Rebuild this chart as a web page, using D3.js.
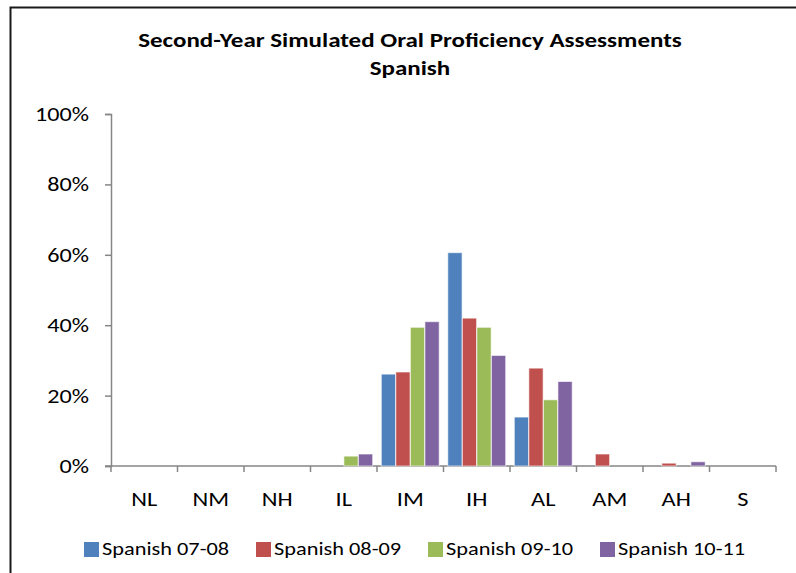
<!DOCTYPE html>
<html>
<head>
<meta charset="utf-8">
<script src="https://cdn.jsdelivr.net/npm/d3@7"></script>
<style>
  body { margin: 0; background: #fff; }
  text { font-family: Carlito, Lato, "Open Sans", sans-serif; fill: #000; }
</style>
</head>
<body>
<div id="chart"></div>
<script>
const categories = ["NL", "NM", "NH", "IL", "IM", "IH", "AL", "AM", "AH", "S"];
const seriesNames = ["Spanish 07-08", "Spanish 08-09", "Spanish 09-10", "Spanish 10-11"];
const spanish0708 = [0, 0, 0, 0, 26.1, 60.6, 13.9, 0, 0, 0];
const spanish0809 = [0, 0, 0, 0, 26.7, 42.0, 27.8, 3.4, 0.8, 0];
const spanish0910 = [0, 0, 0, 2.8, 39.4, 39.4, 18.8, 0, 0, 0];
const spanish1011 = [0, 0, 0, 3.4, 41.0, 31.4, 24.0, 0, 1.2, 0];
const yTicks = [0, 20, 40, 60, 80, 100];
const colors = ["#4F81BD", "#C0504D", "#9BBB59", "#8064A2"];

const width = 796, height = 573;
const series = [spanish0708, spanish0809, spanish0910, spanish1011];
// the reference text is a bit wider than its height suggests
const stretch = 1.22;

const svg = d3
  .select("#chart")
  .append("svg")
  .attr("width", width)
  .attr("height", height)
  .attr("viewBox", [0, 0, width, height]);

// chart frame (only top and left edges show in the crop)
svg
  .append("rect")
  .attr("x", 10.5)
  .attr("y", 7.5)
  .attr("width", width + 20)
  .attr("height", height + 20)
  .attr("fill", "none")
  .attr("stroke", "#1a1a1a")
  .attr("stroke-width", 2);

const plot = { left: 111, right: 776, top: 114, bottom: 466 };

const x0 = d3.scaleBand().domain(categories).range([plot.left, plot.right]);
const x1 = d3
  .scaleBand()
  .domain(d3.range(series.length))
  .range([x0.bandwidth() * 0.065, x0.bandwidth() * 0.935])
  .paddingInner(0.02);
const y = d3.scaleLinear().domain([0, 100]).range([plot.bottom, plot.top]);

const label = (sel, x, y, txt, size, anchor, bold) =>
  sel
    .append("text")
    .attr("transform", `translate(${x},${y}) scale(${stretch},1)`)
    .attr("text-anchor", anchor)
    .style("font-size", size + "px")
    .style("font-weight", bold ? "bold" : "normal")
    .text(txt);

// title
label(svg, 410, 47, "Second-Year Simulated Oral Proficiency Assessments", 20.5, "middle", true);
label(svg, 410, 75, "Spanish", 20.5, "middle", true);

// y axis
const gy = svg.append("g").attr("transform", `translate(${plot.left},0)`);
gy.call(d3.axisLeft(y).tickValues(yTicks).tickSize(6).tickFormat(""));
gy.selectAll("path, line").attr("stroke", "#868686").attr("stroke-width", 1.5);
gy.selectAll(".tick text").remove();
yTicks.forEach((v) => label(svg, 89, y(v) + 7, v + "%", 19.8, "end"));

// x axis
const gx = svg.append("g").attr("transform", `translate(0,${plot.bottom})`);
gx.append("line")
  .attr("x1", plot.left - 6)
  .attr("x2", plot.right)
  .attr("stroke", "#868686")
  .attr("stroke-width", 1.5);
gx.selectAll("line.tick")
  .data(categories.concat(["end"]))
  .enter()
  .append("line")
  .attr("class", "tick")
  .attr("x1", (d, i) => (i < categories.length ? x0(d) : plot.right))
  .attr("x2", (d, i) => (i < categories.length ? x0(d) : plot.right))
  .attr("y1", 0)
  .attr("y2", 6)
  .attr("stroke", "#868686")
  .attr("stroke-width", 1.5);
categories.forEach((c) => label(svg, x0(c) + x0.bandwidth() / 2, 506, c, 20, "middle"));

// bars
const groups = svg
  .append("g")
  .selectAll("g")
  .data(series)
  .enter()
  .append("g")
  .attr("fill", (d, i) => colors[i]);
groups
  .selectAll("rect")
  .data((d, i) => d.map((v, j) => ({ v, cat: categories[j], s: i })))
  .enter()
  .filter((d) => d.v > 0)
  .append("rect")
  .attr("x", (d) => x0(d.cat) + x1(d.s))
  .attr("width", x1.bandwidth())
  .attr("y", (d) => y(d.v))
  .attr("height", (d) => y(0) - y(d.v))
  .attr("stroke", "#fff")
  .attr("stroke-opacity", 0.6)
  .attr("stroke-width", 1);

// legend
const legend = svg
  .append("g")
  .selectAll("g")
  .data(seriesNames)
  .enter()
  .append("g")
  .attr("transform", (d, i) => `translate(${84 + i * 172},542)`);
legend
  .append("rect")
  .attr("width", 15)
  .attr("height", 15)
  .attr("fill", (d, i) => colors[i]);
legend.each(function (d) {
  label(d3.select(this), 18, 13.3, d, 18.3, "start");
});
</script>
</body>
</html>
